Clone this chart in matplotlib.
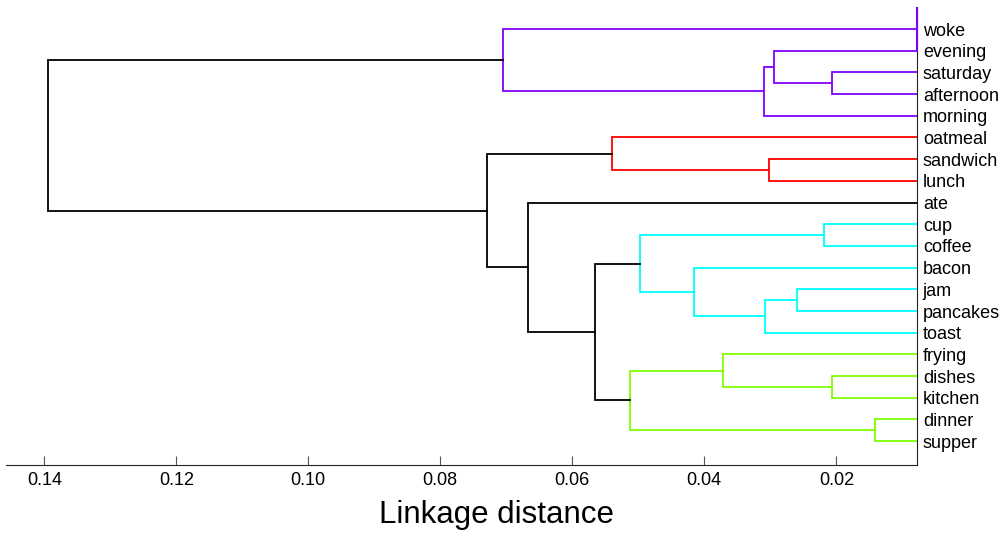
import matplotlib
matplotlib.use("Agg")
import matplotlib.pyplot as plt

plt.rcParams['font.family'] = ['Liberation Sans', 'DejaVu Sans']

leaves = ['woke', 'evening', 'saturday', 'afternoon', 'morning',
          'oatmeal', 'sandwich', 'lunch', 'ate', 'cup', 'coffee',
          'bacon', 'jam', 'pancakes', 'toast', 'frying', 'dishes',
          'kitchen', 'dinner', 'supper']

# merges like scipy linkage: index >= len(leaves) means an earlier merge
merge_a = [2, 1, 21, 0, 6, 5, 9, 12, 27, 11, 26, 16, 15, 18, 32, 30, 8, 25, 23]
merge_b = [3, 20, 4, 22, 7, 24, 10, 13, 14, 28, 29, 17, 31, 19, 33, 34, 35, 36, 37]
heights = [0.0206, 0.0295, 0.0309, 0.0705, 0.0302, 0.0540, 0.0219, 0.0260,
           0.0308, 0.0415, 0.0497, 0.0206, 0.0372, 0.0141, 0.0513, 0.0565,
           0.0667, 0.0729, 0.1394]
purple = '#8000ff'
red = '#ff0000'
cyan = '#00ffff'
green = '#80ff00'
merge_colors = [purple] * 4 + [red] * 2 + [cyan] * 5 + [green] * 4 + ['black'] * 4

fig = plt.figure(figsize=(10.03, 5.33), dpi=100)
ax = fig.add_axes([6 / 1003, (533 - 465) / 533, (917.3 - 6) / 1003, 457 / 533])

n = len(leaves)
ypos = list(range(n))
xpos = [0.0] * n
for a, b, h, c in zip(merge_a, merge_b, heights, merge_colors):
    ax.plot([xpos[a], h, h, xpos[b]], [ypos[a], ypos[a], ypos[b], ypos[b]],
            color=c, lw=1.3, solid_joinstyle='miter')
    ypos.append((ypos[a] + ypos[b]) / 2)
    xpos.append(h)

ax.set_xlim(0.1458, 0.00773)
ax.set_ylim(20.1, -0.97)

# odd purple bit on the leaf axis above 'evening'
ax.plot([0.00773, 0.00773], [-0.97, 1], color=purple, lw=1.5, clip_on=False, zorder=5)

ax.set_xticks([0.14, 0.12, 0.10, 0.08, 0.06, 0.04, 0.02])
ax.set_xticklabels(['0.14', '0.12', '0.10', '0.08', '0.06', '0.04', '0.02'])
ax.tick_params(axis='x', direction='in', length=6.5, width=0.8, color='#555555',
               labelsize=13, pad=5)
ax.yaxis.tick_right()
ax.set_yticks(range(n))
ax.set_yticklabels(leaves)
ax.tick_params(axis='y', length=0, labelsize=13, pad=4)

ax.spines['top'].set_visible(False)
ax.spines['left'].set_visible(False)
ax.spines['bottom'].set_color('#222222')
ax.spines['right'].set_color('#222222')

fig.text(497 / 1003, (533 - 515) / 533, 'Linkage distance', fontsize=22.5,
         ha='center', va='center')

fig.savefig('out.png', dpi=100)
